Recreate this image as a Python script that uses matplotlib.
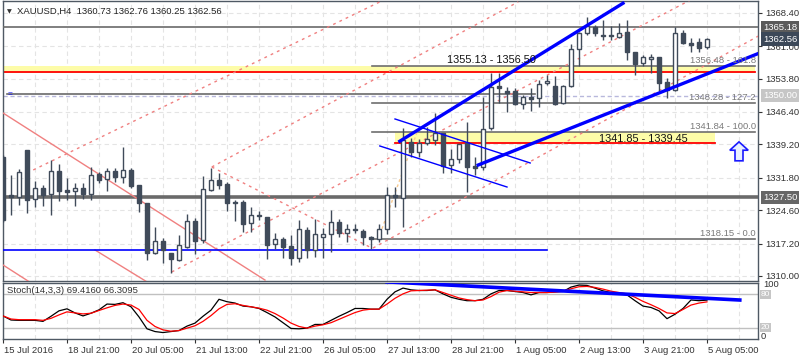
import numpy as np
import matplotlib
matplotlib.use("Agg")
from matplotlib import pyplot as plt
from matplotlib import transforms
from matplotlib.patches import Polygon

plt.rcParams['font.family'] = ['Liberation Sans', 'DejaVu Sans']

# XAUUSD H4 candles, bar 0 = 15 Jul 2016
opens = [1336.46, 1327.97, 1327.53, 1337.95, 1327.08, 1329.52, 1328.19, 1333.29, 1329.08, 1328.86,
         1329.52, 1328.19, 1332.63, 1331.52, 1333.29, 1331.96, 1333.51, 1330.19, 1326.19, 1315.10,
         1317.77, 1315.10, 1313.55, 1316.44, 1322.20, 1317.99, 1329.08, 1331.30, 1330.41, 1326.42,
         1326.42, 1321.76, 1323.53, 1323.09, 1317.10, 1318.21, 1316.66, 1314.00, 1320.21, 1315.77,
         1318.65, 1319.32, 1321.98, 1319.54, 1320.43, 1319.98, 1318.65, 1318.21, 1320.43, 1327.97,
         1327.30, 1339.72, 1337.51, 1339.50, 1340.17, 1341.72, 1334.62, 1335.95, 1339.50, 1334.40,
         1334.18, 1342.83, 1352.15, 1351.04, 1351.04, 1348.15, 1349.71, 1349.48, 1352.81, 1352.15,
         1348.37, 1352.15, 1360.35, 1363.90, 1365.23, 1363.46, 1363.35, 1363.01, 1364.12, 1359.69,
         1357.25, 1358.13, 1358.58, 1353.03, 1351.26, 1363.90, 1361.68, 1361.90, 1360.73]
highs = [1336.84, 1332.40, 1333.74, 1337.95, 1331.07, 1330.19, 1335.73, 1334.84, 1331.74, 1330.63,
         1330.63, 1334.18, 1333.07, 1333.96, 1333.96, 1338.62, 1333.96, 1330.19, 1326.19, 1320.87,
         1318.43, 1315.10, 1319.10, 1323.75, 1322.87, 1332.18, 1333.96, 1332.85, 1330.85, 1326.86,
         1326.86, 1325.31, 1324.42, 1323.09, 1319.54, 1318.65, 1319.10, 1322.42, 1320.87, 1322.65,
         1320.65, 1324.64, 1322.65, 1321.54, 1321.54, 1320.43, 1318.88, 1321.54, 1329.74, 1329.74,
         1342.83, 1340.61, 1340.39, 1343.05, 1346.16, 1341.72, 1338.17, 1339.28, 1344.16, 1336.40,
         1349.71, 1355.03, 1355.03, 1351.92, 1351.70, 1350.15, 1351.70, 1353.48, 1354.58, 1354.36,
         1352.37, 1361.46, 1364.12, 1367.45, 1365.67, 1366.78, 1365.45, 1366.12, 1366.78, 1359.69,
         1359.02, 1359.24, 1358.58, 1353.92, 1365.23, 1364.57, 1362.79, 1362.79, 1362.76]
lows = [1321.98, 1323.53, 1325.75, 1323.98, 1325.31, 1325.53, 1323.53, 1326.64, 1326.86, 1325.53,
        1327.08, 1326.86, 1330.63, 1328.86, 1330.85, 1330.63, 1329.52, 1324.20, 1313.55, 1314.88,
        1312.89, 1310.67, 1313.33, 1316.21, 1314.88, 1317.32, 1328.86, 1329.30, 1324.42, 1322.20,
        1319.76, 1319.76, 1322.42, 1313.77, 1315.99, 1314.00, 1312.44, 1313.11, 1314.00, 1314.22,
        1314.00, 1315.33, 1318.65, 1317.54, 1319.54, 1316.88, 1315.99, 1317.54, 1319.32, 1325.31,
        1320.87, 1336.40, 1336.40, 1339.06, 1339.06, 1332.85, 1332.85, 1335.07, 1328.63, 1332.40,
        1333.51, 1342.39, 1348.37, 1346.38, 1347.93, 1347.04, 1346.60, 1347.49, 1352.37, 1347.93,
        1348.15, 1351.92, 1356.58, 1363.46, 1363.24, 1362.35, 1362.35, 1362.79, 1357.91, 1354.58,
        1356.58, 1355.03, 1351.04, 1349.48, 1351.04, 1361.46, 1359.69, 1359.69, 1360.25]
closes = [1322.42, 1327.53, 1333.07, 1326.86, 1329.52, 1327.97, 1333.29, 1328.86, 1328.63, 1329.52,
          1328.19, 1332.40, 1331.30, 1333.29, 1331.96, 1333.51, 1329.97, 1326.19, 1315.10, 1317.77,
          1315.77, 1313.77, 1316.88, 1322.20, 1317.77, 1329.30, 1331.30, 1330.19, 1326.19, 1326.19,
          1321.54, 1323.53, 1323.40, 1316.88, 1318.21, 1316.44, 1314.00, 1320.43, 1315.77, 1319.32,
          1319.32, 1321.98, 1319.54, 1320.43, 1320.21, 1318.65, 1318.21, 1320.43, 1327.97, 1327.53,
          1340.17, 1337.51, 1339.50, 1340.39, 1341.72, 1334.40, 1335.95, 1339.28, 1334.18, 1333.96,
          1342.61, 1351.92, 1351.70, 1350.59, 1348.15, 1349.71, 1349.26, 1352.59, 1353.25, 1348.15,
          1352.15, 1360.35, 1363.90, 1365.45, 1363.90, 1363.24, 1363.24, 1363.90, 1359.69, 1357.02,
          1358.58, 1358.58, 1352.81, 1351.26, 1363.90, 1361.68, 1361.24, 1360.57, 1362.56]

# Stochastic(14,3,3): main (black) and signal (red)
stoch_k = [41.2, 33.9, 33.3, 33.3, 33.3, 31.5, 40.6, 50.3, 53.9, 46.6,
           41.2, 46.0, 52.1, 62.4, 61.8, 64.8, 57.5, 39.4, 18.2, 13.3,
           11.5, 13.3, 15.1, 23.0, 28.4, 40.6, 51.5, 70.9, 66.6, 64.2,
           58.8, 57.5, 54.5, 47.2, 39.4, 29.1, 18.8, 18.2, 19.4, 26.0,
           26.0, 33.3, 40.6, 47.2, 54.5, 54.5, 53.3, 53.3, 70.9, 84.2,
           90.9, 87.8, 86.6, 86.6, 87.8, 80.6, 74.5, 70.9, 68.4, 68.4,
           70.9, 80.6, 86.6, 86.6, 84.8, 83.0, 78.8, 83.0, 83.0, 84.2,
           84.8, 92.7, 96.3, 95.7, 90.9, 86.0, 83.0, 81.8, 78.8, 68.4,
           58.8, 56.3, 50.3, 36.3, 44.2, 54.5, 69.7, 68.4, 69.416]
stoch_d = [41.2, 35.7, 34.5, 34.5, 34.5, 33.3, 36.9, 43.0, 48.5, 46.6,
           44.8, 46.0, 50.9, 55.7, 60.0, 62.4, 60.6, 52.7, 33.3, 22.4,
           16.3, 13.9, 15.1, 19.4, 23.6, 31.5, 41.8, 53.9, 61.8, 63.0,
           60.0, 57.5, 55.1, 51.5, 45.4, 37.5, 28.4, 22.4, 19.4, 23.0,
           25.4, 29.1, 35.1, 41.2, 47.2, 51.5, 53.3, 53.3, 62.4, 72.7,
           80.6, 86.0, 86.6, 87.2, 87.8, 83.0, 78.1, 73.3, 70.3, 68.4,
           69.7, 75.7, 83.6, 86.6, 85.4, 84.2, 83.0, 83.0, 83.0, 83.6,
           85.4, 89.7, 93.3, 93.9, 92.1, 89.1, 85.4, 83.0, 80.6, 74.5,
           67.2, 61.2, 54.5, 46.6, 45.4, 52.7, 60.6, 64.2, 66.3095]

time_ticks = [0, 8, 16, 24, 32, 40, 48, 56, 64, 72, 80, 88]
time_labels = ['15 Jul 2016', '18 Jul 21:00', '20 Jul 05:00', '21 Jul 13:00', '22 Jul 21:00',
               '26 Jul 05:00', '27 Jul 13:00', '28 Jul 21:00', '1 Aug 05:00', '2 Aug 13:00',
               '3 Aug 21:00', '5 Aug 05:00']
price_ticks = [1310.00, 1317.20, 1324.60, 1331.80, 1339.20, 1346.40, 1353.80, 1361.00, 1368.40]

# drawn objects, end points as (bar, price)
blue_channel = [[(49.6, 1339.9), (77.5, 1370.5)], [(59.4, 1334.62), (94.25, 1359.24)]]
blue_flag = [[(49.0, 1344.83), (65.9, 1335.07)], [(47.1, 1338.84), (63.0, 1329.74)]]
blue_support = [(0, 1315.77), (68, 1315.77)]
red_solid = [[(0, 1346.16), (32.75, 1309.1)], [(-0.4, 1312.9), (4, 1307.9)],
             [(11.5, 1315.77), (19, 1307.6)]]
red_dotted = [[(3.0, 1332.85), (47.1, 1370.8)], [(26.1, 1334.18), (64.4, 1370.8)],
              [(21.1, 1310.9), (85.9, 1371.2)], [(46.25, 1316.2), (94.4, 1363.2)],
              [(26.1, 1334.18), (46.1, 1316.2)]]
fib_diag = [(46.9, 1318.15), (51.75, 1341.84)]
fib_levels = [1318.15, 1341.84, 1348.28, 1356.48]
fib_texts = ['1318.15 - 0.0', '1341.84 - 100.0', '1348.28 - 127.2', '1356.48 - 161.8']
fib_span = (46.1, 94.0)
zone_hi = (1355.13, 1356.50, 0, 94.0)
zone_lo = (1339.45, 1341.85, 49.0, 89.0)
stoch_trend = [(48, 102.0), (92.1, 69.6)]

CANDLE = '#404b5a'
GRID = '#e4e4e4'
FRAME = '#4f5964'
FS = 6.8

fig = plt.figure(figsize=(8, 3.6), dpi=100)
ax = fig.add_axes([3 / 800, 1 - 281 / 360, 755 / 800, 280 / 360])
ax2 = fig.add_axes([3 / 800, 1 - 339 / 360, 755 / 800, 56 / 360])

x = np.arange(len(opens))
o = np.array(opens)
c = np.array(closes)
up = c >= o

# grid
for a in (ax, ax2):
    for gx in range(0, 95, 4):
        a.axvline(gx, color=GRID, lw=0.8, ls=(0, (4, 3)), zorder=0)
for gy in price_ticks:
    ax.axhline(gy, color=GRID, lw=0.8, ls=(0, (4, 3)), zorder=0)

# zones
for lo, hi, x0, x1 in (zone_hi, zone_lo):
    ax.fill_between([x0, x1], lo, hi, color='#fdfca8', lw=0, zorder=1)
ax.plot([zone_hi[2], zone_hi[3]], [1355.30, 1355.30], color='#ff0000', lw=1.3, zorder=2)
ax.plot([zone_lo[2], zone_lo[3]], [1339.55, 1339.55], color='#ff0000', lw=1.3, zorder=2)

# horizontal levels
ax.axhline(1365.18, color='#6a6a6a', lw=1.2, zorder=3)
ax.axhline(1327.50, color='#6a6a6a', lw=2.6, zorder=3)
ax.axhline(1349.95, color='#b8b8dc', lw=1, ls=(0, (3, 2)), zorder=2)
ax.plot([0.5, 66.5], [1350.26, 1350.26], color='#6a6a6a', lw=1.2, zorder=3)
for lv in fib_levels:
    ax.plot(fib_span, [lv, lv], color='#6e6e6e', lw=1.2, zorder=3)
ax.plot(*zip(*fib_diag), color='#f7c98f', lw=1, ls=(0, (2, 2)), zorder=3)

for seg in red_solid:
    ax.plot(*zip(*seg), color='#f08080', lw=1, zorder=3)
for seg in red_dotted:
    ax.plot(*zip(*seg), color='#f08080', lw=1, ls=(0, (2, 3)), zorder=3)
ax.plot(*zip(*blue_support), color='#0000ff', lw=1.2, zorder=3)

# candles
ax.vlines(x, lows, highs, color=CANDLE, lw=1, zorder=4)
ax.bar(x, np.maximum(np.abs(c - o), 0.06), bottom=np.minimum(o, c), width=0.62,
       color=np.where(up, 'white', CANDLE), edgecolor=CANDLE, lw=1, zorder=5)

# trend lines on top
for seg in blue_channel:
    ax.plot(*zip(*seg), color='#0000ff', lw=2.4, zorder=6)
for seg in blue_flag:
    ax.plot(*zip(*seg), color='#0000ff', lw=1, zorder=6)

# arrow
ab, ap = 92.0, 1339.75
arrow = Polygon([(ab, ap), (ab + 1.15, ap - 1.85), (ab + 0.5, ap - 1.85), (ab + 0.5, ap - 4.2),
                 (ab - 0.5, ap - 4.2), (ab - 0.5, ap - 1.85), (ab - 1.15, ap - 1.85)],
                closed=True, fc='#e8f0ff', ec='#1a1aff', lw=1.2, zorder=6)
ax.add_patch(arrow)

# texts
ax.text(55.5, 1357.9, '1355.13 - 1356.50', fontsize=7.8, color='#111111', va='center', zorder=7)
ax.text(74.5, 1340.3, '1341.85 - 1339.45', fontsize=7.8, color='#111111', va='center', zorder=7)
for lv, t in zip(fib_levels, fib_texts):
    ax.text(94.1, lv + 0.25, t, fontsize=FS, color='#7a7a7a', ha='right', va='bottom',
            clip_on=True, zorder=7)
ax.text(0.9, 1350.15, '=', fontsize=6, color='#0000ff', ha='center', va='center', zorder=7)
ax.text(0.0053, 0.962, '\u25bc', transform=ax.transAxes, fontsize=4.5, color='#333333',
        va='center', family='DejaVu Sans')
ax.text(0.0185, 0.962, 'XAUUSD,H4  1360.73 1362.76 1360.25 1362.56', transform=ax.transAxes,
        fontsize=FS, color='#222222', va='center')

ax.set_xlim(0, 94.375)
ax.set_ylim(1308.89, 1371.0)
ax.yaxis.tick_right()
ax.set_yticks(price_ticks)
ax.set_yticklabels(['%.2f' % v for v in price_ticks])
ax.tick_params(axis='y', direction='out', length=3, width=0.8, pad=2, labelsize=FS,
               colors='#333333')
ax.set_xticks([])

# price markers on the scale
blend = transforms.blended_transform_factory(ax.transAxes, ax.transData)
for val, bg in ((1365.18, '#5a5a5a'), (1362.56, '#3c4858'), (1350.00, '#c6c6c6'),
                (1327.50, '#666666')):
    ax.text(1.0065, val, '%.2f' % val, transform=blend, fontsize=FS, color='white',
            ha='left', va='center', zorder=8, clip_on=False,
            bbox=dict(boxstyle='square,pad=0.22', fc=bg, ec='none'))

# stochastic panel
ax2.axhline(80, color='#c0c0c0', lw=1, zorder=1)
ax2.axhline(20, color='#c0c0c0', lw=1, zorder=1)
ax2.plot(x, stoch_k, color='black', lw=0.9, zorder=3)
ax2.plot(x, stoch_d, color='#ff0000', lw=0.9, zorder=3)
ax2.plot(*zip(*stoch_trend), color='#0000ff', lw=2.6, zorder=4)
ax2.set_xlim(0, 94.375)
ax2.set_ylim(0, 100)
ax2.set_yticks([])
ax2.text(0.0053, 0.86, 'Stoch(14,3,3) 69.4160 66.3095', transform=ax2.transAxes,
         fontsize=FS, color='#333333', va='center')
blend2 = transforms.blended_transform_factory(ax2.transAxes, ax2.transData)
ax2.text(1.0075, 97, '100', transform=blend2, fontsize=FS, color='#333333', va='center')
ax2.text(1.0035, 4, '0', transform=blend2, fontsize=FS, color='#333333', va='center')
for lv in (80, 20):
    ax2.text(1.004, lv, str(lv), transform=blend2, fontsize=6, color='white', va='center',
             bbox=dict(boxstyle='square,pad=0.12', fc='#c6c6c6', ec='none'))

ax2.set_xticks(time_ticks)
ax2.set_xticklabels(time_labels, ha='left')
ax2.tick_params(axis='x', direction='out', length=3, width=0.8, pad=2, labelsize=FS,
                colors='#333333')
for lab in ax2.get_xticklabels():
    lab.set_transform(lab.get_transform() + transforms.ScaledTranslation(1 / 100, 0,
                                                                          fig.dpi_scale_trans))

for a in (ax, ax2):
    for s in a.spines.values():
        s.set_color(FRAME)
        s.set_linewidth(1)

fig.savefig('out.png', dpi=100, facecolor='white')
